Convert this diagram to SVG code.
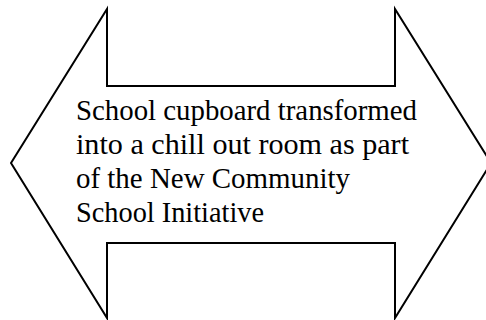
<svg xmlns="http://www.w3.org/2000/svg" width="486" height="320" viewBox="0 0 486 320">
<style>
.shape{fill:#fff;stroke:#000;stroke-width:2;stroke-linejoin:miter}
.t{font-family:"Liberation Serif","Times New Roman",serif;font-size:29px;fill:#000}
</style>
<rect width="486" height="320" fill="#fff"/>
<g id="arrow">
<polygon class="shape" points="11,163 107,9 107,86 395,86 395,9 491,163 395,318 395,243 107,243 107,318"/>
<text class="t" x="76" y="120" textLength="341" lengthAdjust="spacingAndGlyphs">School cupboard transformed</text>
<text class="t" x="76" y="154" textLength="333" lengthAdjust="spacingAndGlyphs">into a chill out room as part</text>
<text class="t" x="76" y="188" textLength="274" lengthAdjust="spacingAndGlyphs">of the New Community</text>
<text class="t" x="76" y="222" textLength="188" lengthAdjust="spacingAndGlyphs">School Initiative</text>
</g>
</svg>
